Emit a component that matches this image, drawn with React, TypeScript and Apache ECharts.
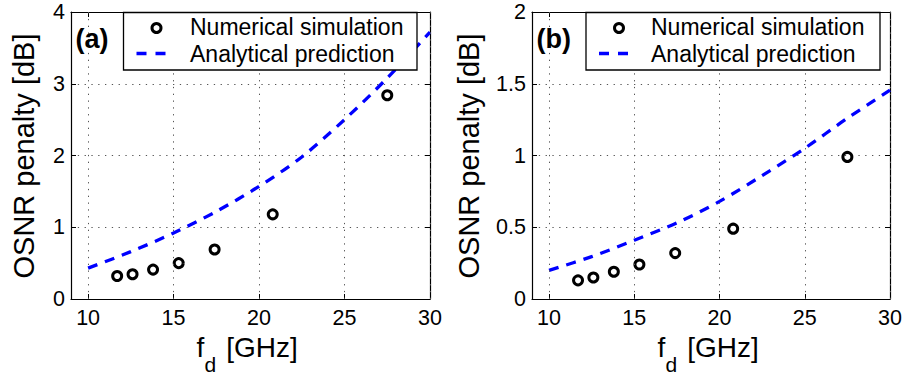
import React, { useEffect, useRef } from "react";
import * as echarts from "echarts";

// ---- data ----
const xTicks = [10, 15, 20, 25, 30];
const simX = [11.7, 12.6, 13.8, 15.3, 17.4, 20.8, 27.5];
const simA = [0.32, 0.345, 0.41, 0.5, 0.69, 1.18, 2.84];
const simB = [0.13, 0.15, 0.19, 0.24, 0.32, 0.49, 0.99];
const predX = [10, 12.5, 15, 17.5, 20, 22.5, 25, 27.5, 30];
const predA = [0.43, 0.66, 0.92, 1.22, 1.57, 1.98, 2.5, 3.08, 3.72];
const predB = [0.2, 0.295, 0.41, 0.53, 0.68, 0.86, 1.05, 1.26, 1.455];
const panelTags = ["(a)", "(b)"];
const legendNames = ["Numerical simulation", "Analytical prediction"];
const yTitle = "OSNR penalty [dB]";

const FONT = '"Liberation Sans", Arial, Helvetica, sans-serif';

const GRIDS = [
  { left: 71, top: 12, width: 359, height: 287 },
  { left: 532, top: 12, width: 358, height: 287 },
];

function buildOption() {
  const xAxis: any[] = [];
  const yAxis: any[] = [];
  const series: any[] = [];
  const graphic: any[] = [];
  const panels = [
    { yMax: 4, yInt: 1, sim: simA, pred: predA },
    { yMax: 2, yInt: 0.5, sim: simB, pred: predB },
  ];
  panels.forEach((p, g) => {
    const grid = GRIDS[g];
    xAxis.push({
      type: "value", gridIndex: g, min: 9, max: 30, position: "bottom",
      axisLine: { show: true, onZero: false, lineStyle: { color: "#000", width: 1.2 } },
      axisTick: { show: true, inside: true, length: 5, customValues: xTicks, lineStyle: { color: "#000" } },
      axisLabel: { show: true, customValues: xTicks, margin: 8, color: "#000", fontSize: 21.5, fontFamily: FONT },
      splitLine: { show: false },
    });
    xAxis.push({
      type: "value", gridIndex: g, min: 9, max: 30, position: "top",
      axisLine: { show: true, onZero: false, lineStyle: { color: "#000", width: 1.2 } },
      axisTick: { show: true, inside: true, length: 5, customValues: xTicks, lineStyle: { color: "#000" } },
      axisLabel: { show: false },
      splitLine: { show: false },
    });
    yAxis.push({
      type: "value", gridIndex: g, min: 0, max: p.yMax, interval: p.yInt, position: "left",
      axisLine: { show: true, onZero: false, lineStyle: { color: "#000", width: 1.2 } },
      axisTick: { show: true, inside: true, length: 5, lineStyle: { color: "#000" } },
      axisLabel: { show: true, margin: 6, color: "#000", fontSize: 21.5, fontFamily: FONT },
      splitLine: { show: true, lineStyle: { color: "#555", width: 1, type: [1.3, 5.5] } },
    });
    yAxis.push({
      type: "value", gridIndex: g, min: 0, max: p.yMax, interval: p.yInt, position: "right",
      axisLine: { show: true, onZero: false, lineStyle: { color: "#000", width: 1.2 } },
      axisTick: { show: true, inside: true, length: 5, lineStyle: { color: "#000" } },
      axisLabel: { show: false },
      splitLine: { show: false },
    });
    series.push({
      type: "line", name: legendNames[1], xAxisIndex: g * 2, yAxisIndex: g * 2,
      data: predX.map((x, i) => [x, p.pred[i]]),
      showSymbol: false, symbol: "none", smooth: 0.3, z: 2,
      lineStyle: { color: "#0000ff", width: 3.3, type: [10, 8], cap: "butt" },
      markLine: {
        silent: true, symbol: ["none", "none"], label: { show: false },
        lineStyle: { color: "#555", width: 1, type: [1.3, 5.5] },
        data: xTicks.map((v) => ({ xAxis: v })),
      },
    });
    series.push({
      type: "scatter", name: legendNames[0], xAxisIndex: g * 2, yAxisIndex: g * 2,
      data: simX.map((x, i) => [x, p.sim[i]]),
      symbol: "circle", symbolSize: 9, z: 3,
      itemStyle: { color: "rgba(0,0,0,0)", borderColor: "#000", borderWidth: 3, opacity: 1 },
    });

    const off = grid.left - GRIDS[0].left;
    const legL = g === 0 ? 123.5 : 586;
    const legR = g === 0 ? 417 : 880;
    const dashL = legL + 13;
    const textL = g === 0 ? 190 : 651;
    // legend box
    graphic.push({
      type: "rect", z: 100,
      shape: { x: legL, y: 12.5, width: legR - legL, height: 57.5 },
      style: { fill: "#fff", stroke: "#000", lineWidth: 1.3 },
    });
    graphic.push({
      type: "circle", z: 101,
      shape: { cx: dashL + 20, cy: 28, r: 4.5 },
      style: { fill: "none", stroke: "#000", lineWidth: 3 },
    });
    graphic.push({
      type: "line", z: 101,
      shape: { x1: dashL, y1: 53.5, x2: dashL + 30, y2: 53.5 },
      style: { stroke: "#0000ff", lineWidth: 3.3, lineDash: [10, 9] },
    });
    graphic.push({
      type: "text", z: 101, x: textL, y: 27,
      style: { text: legendNames[0], fontSize: 23, fontFamily: FONT, fill: "#000", align: "left", verticalAlign: "middle" },
    });
    graphic.push({
      type: "text", z: 101, x: textL, y: 54,
      style: { text: legendNames[1], fontSize: 23, fontFamily: FONT, fill: "#000", align: "left", verticalAlign: "middle" },
    });
    // panel tag
    graphic.push({
      type: "text", z: 101, x: 75.5 + off, y: 38.5,
      style: { text: panelTags[g], fontSize: 27, fontWeight: "bold", fontFamily: FONT, fill: "#000", align: "left", verticalAlign: "middle" },
    });
    // y title
    graphic.push({
      type: "text", z: 101, x: g === 0 ? 23.5 : 469, y: 156, rotation: Math.PI / 2,
      style: { text: yTitle, fontSize: 29, fontFamily: FONT, fill: "#000", align: "center", verticalAlign: "middle" },
    });
    // x title: f_d [GHz]
    graphic.push({
      type: "text", z: 101, x: 196.5 + off, y: 347.3,
      style: { text: "f", fontSize: 28, fontFamily: FONT, fill: "#000", align: "left", verticalAlign: "middle" },
    });
    graphic.push({
      type: "text", z: 101, x: 204.5 + off, y: 364.4,
      style: { text: "d", fontSize: 21, fontFamily: FONT, fill: "#000", align: "left", verticalAlign: "middle" },
    });
    graphic.push({
      type: "text", z: 101, x: 218.5 + off, y: 347.3,
      style: { text: " [GHz]", fontSize: 28, fontFamily: FONT, fill: "#000", align: "left", verticalAlign: "middle" },
    });
  });

  return {
    animation: false,
    backgroundColor: "#fff",
    textStyle: { fontFamily: FONT },
    grid: GRIDS.map((g) => ({ ...g, containLabel: false })),
    xAxis,
    yAxis,
    series,
    graphic,
  };
}

export default function App() {
  const ref = useRef<HTMLDivElement>(null);
  useEffect(() => {
    if (!ref.current) return;
    const chart = echarts.init(ref.current, undefined, { renderer: "svg" });
    chart.setOption(buildOption() as any);
    return () => chart.dispose();
  }, []);
  return (
    <div
      ref={ref}
      style={{ position: "absolute", left: 0, top: 0, width: 905, height: 376, background: "#fff" }}
    />
  );
}
